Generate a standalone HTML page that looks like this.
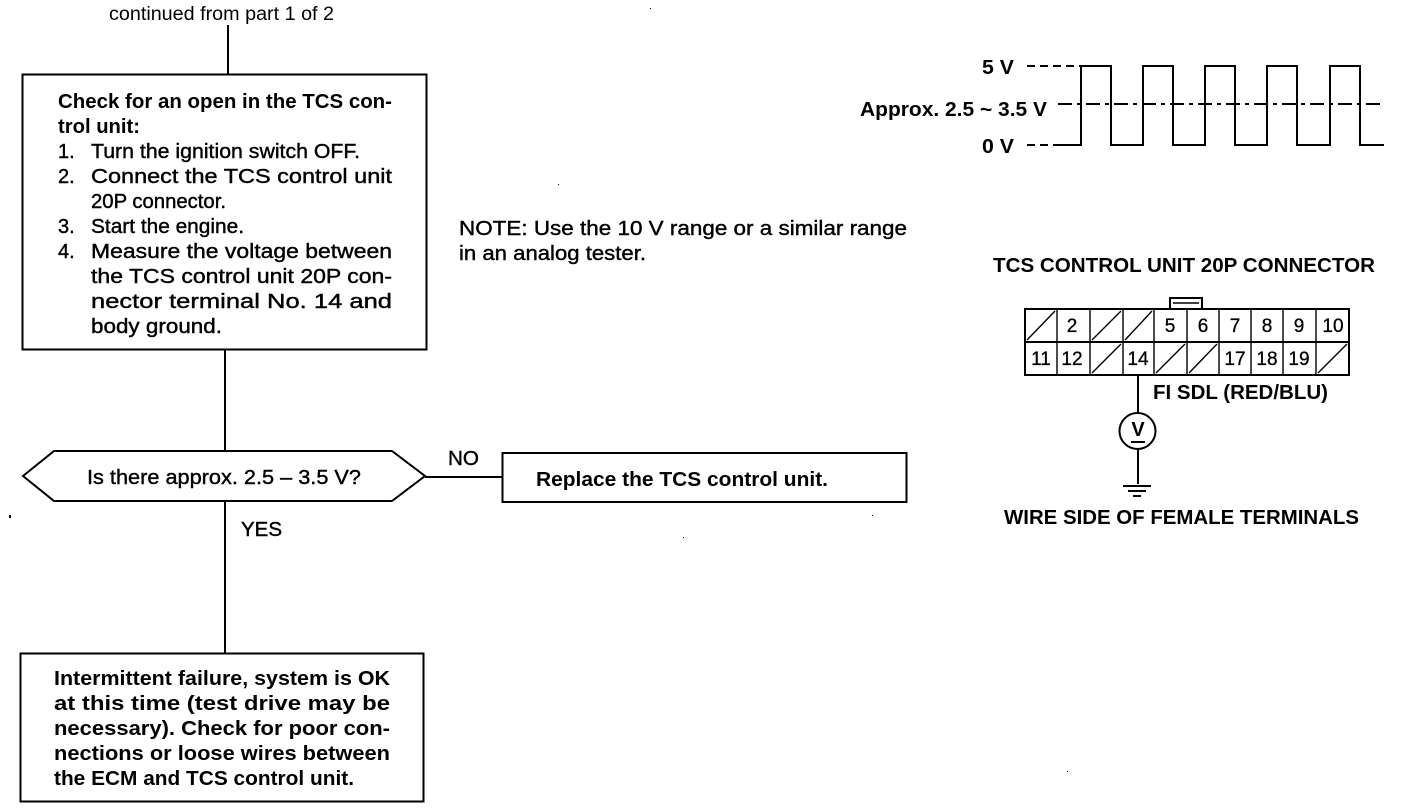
<!DOCTYPE html>
<html><head><meta charset="utf-8">
<style>
html,body{margin:0;padding:0;background:#fff}
svg{display:block}
text{font-family:"Liberation Sans",sans-serif;font-size:20px;fill:#000}
.b{font-weight:bold}
.s{stroke:#000;stroke-width:.4px}
.l{stroke:#000;stroke-width:2;fill:none}
.t{stroke:#000;stroke-width:1.4;fill:none}
.c{font-size:19px;text-anchor:middle;stroke:#000;stroke-width:.3px}
</style></head>
<body>
<svg width="1408" height="808" viewBox="0 0 1408 808" xmlns="http://www.w3.org/2000/svg">
<rect width="1408" height="808" fill="#fff"/>

<text x="109" y="20" style="font-size:19px" textLength="225" lengthAdjust="spacingAndGlyphs">continued from part 1 of 2</text>
<path class="l" d="M228 25V74M225 349V451M225 501V653M425 477H502"/>

<rect class="l" x="22.500" y="74.500" width="404" height="275"/>
<text class="b" x="58" y="108" textLength="334" lengthAdjust="spacingAndGlyphs">Check for an open in the TCS con-</text>
<text class="b" x="58" y="133" textLength="82" lengthAdjust="spacingAndGlyphs">trol unit:</text>
<g class="s">
<text x="58" y="158">1.</text><text x="91" y="158" textLength="269" lengthAdjust="spacingAndGlyphs">Turn the ignition switch OFF.</text>
<text x="58" y="183">2.</text><text x="91" y="183" textLength="301" lengthAdjust="spacingAndGlyphs">Connect the TCS control unit</text>
<text x="91" y="208" textLength="135" lengthAdjust="spacingAndGlyphs">20P connector.</text>
<text x="58" y="233">3.</text><text x="91" y="233" textLength="153" lengthAdjust="spacingAndGlyphs">Start the engine.</text>
<text x="58" y="258">4.</text><text x="91" y="258" textLength="301" lengthAdjust="spacingAndGlyphs">Measure the voltage between</text>
<text x="91" y="283" textLength="301" lengthAdjust="spacingAndGlyphs">the TCS control unit 20P con-</text>
<text x="91" y="308" textLength="301" lengthAdjust="spacingAndGlyphs">nector terminal No. 14 and</text>
<text x="91" y="333" textLength="131" lengthAdjust="spacingAndGlyphs">body ground.</text>
</g>

<text class="s" x="459" y="235" textLength="448" lengthAdjust="spacingAndGlyphs">NOTE:  Use the 10 V range or a similar range</text>
<text class="s" x="459" y="260" textLength="187" lengthAdjust="spacingAndGlyphs">in an analog tester.</text>

<polygon class="l" points="23,476 54,451 392,451 425,476 392,501 54,501"/>
<text class="s" x="87" y="484" textLength="274" lengthAdjust="spacingAndGlyphs">Is there approx. 2.5 – 3.5 V?</text>
<text class="s" x="448" y="465" textLength="31" lengthAdjust="spacingAndGlyphs">NO</text>
<text class="s" x="241" y="536" textLength="41" lengthAdjust="spacingAndGlyphs">YES</text>

<rect class="l" x="502.500" y="453" width="404" height="49"/>
<text class="b" x="536" y="486" textLength="292" lengthAdjust="spacingAndGlyphs">Replace the TCS control unit.</text>

<rect class="l" x="20.500" y="653.500" width="403" height="148"/>
<text class="b" x="54" y="685" textLength="336" lengthAdjust="spacingAndGlyphs">Intermittent failure, system is OK</text>
<text class="b" x="54" y="710" textLength="336" lengthAdjust="spacingAndGlyphs">at this time (test drive may be</text>
<text class="b" x="54" y="735" textLength="336" lengthAdjust="spacingAndGlyphs">necessary). Check for poor con-</text>
<text class="b" x="54" y="760" textLength="336" lengthAdjust="spacingAndGlyphs">nections or loose wires between</text>
<text class="b" x="54" y="785" textLength="300" lengthAdjust="spacingAndGlyphs">the ECM and TCS control unit.</text>

<!-- waveform -->
<text class="b" x="982" y="74" textLength="32" lengthAdjust="spacingAndGlyphs">5 V</text>
<text class="b" x="860" y="116" textLength="187" lengthAdjust="spacingAndGlyphs">Approx. 2.5 ~ 3.5 V</text>
<text class="b" x="982" y="153" textLength="32" lengthAdjust="spacingAndGlyphs">0 V</text>
<path class="l" d="M1058 145H1081V66H1111V145H1143V66H1173V145H1205V66H1235V145H1267V66H1297V145H1330V66H1360V145H1384"/>
<path class="l" stroke-dasharray="8 5" d="M1027 66H1081M1027 145H1058"/>
<path class="l" stroke-dasharray="14 5 4 5" d="M1058 104H1384"/>

<!-- connector -->
<text class="b" x="993" y="272" textLength="382" lengthAdjust="spacingAndGlyphs">TCS CONTROL UNIT 20P CONNECTOR</text>
<path class="l" d="M1170 309V298H1202V309"/>
<path class="t" d="M1173 303H1199"/>
<rect class="l" x="1025" y="309" width="324" height="66"/>
<path class="l" d="M1025 342H1349"/>
<path class="t" d="M1057 309V375M1090 309V375M1123 309V375M1154 309V375M1187 309V375M1219 309V375M1251 309V375M1283 309V375M1316 309V375"/>
<path class="t" d="M1027 340L1055 311M1092 340L1121 311M1125 340L1152 311M1092 373L1121 344M1156 373L1185 344M1189 373L1217 344M1318 373L1347 344"/>
<g>
<text class="c" x="1072" y="332">2</text><text class="c" x="1170" y="332">5</text><text class="c" x="1203" y="332">6</text><text class="c" x="1235" y="332">7</text><text class="c" x="1267" y="332">8</text><text class="c" x="1299" y="332">9</text><text class="c" x="1333" y="332">10</text>
<text class="c" x="1041" y="365">11</text><text class="c" x="1072" y="365">12</text><text class="c" x="1138" y="365">14</text><text class="c" x="1235" y="365">17</text><text class="c" x="1267" y="365">18</text><text class="c" x="1299" y="365">19</text>
</g>
<text class="b" x="1153" y="399" textLength="175" lengthAdjust="spacingAndGlyphs">FI SDL (RED/BLU)</text>
<path class="l" d="M1138 375V414M1138 449V484"/>
<circle class="l" cx="1137.500" cy="431" r="18"/>
<text class="b" x="1138" y="436" text-anchor="middle">V</text>
<path class="l" d="M1131 442H1145"/>
<path class="l" d="M1123 486H1151M1128 491H1146M1133 496H1141"/>
<text class="b" x="1004" y="524" textLength="355" lengthAdjust="spacingAndGlyphs">WIRE SIDE OF FEMALE TERMINALS</text>

<!-- specks -->
<g fill="#000"><rect x="650" y="8" width="1" height="1"/><rect x="558" y="184" width="1" height="1"/><rect x="9" y="515" width="2" height="3"/><rect x="683" y="537" width="1" height="1"/><rect x="872" y="515" width="1" height="1"/><rect x="1067" y="771" width="1" height="1"/></g>
</svg>
</body></html>
